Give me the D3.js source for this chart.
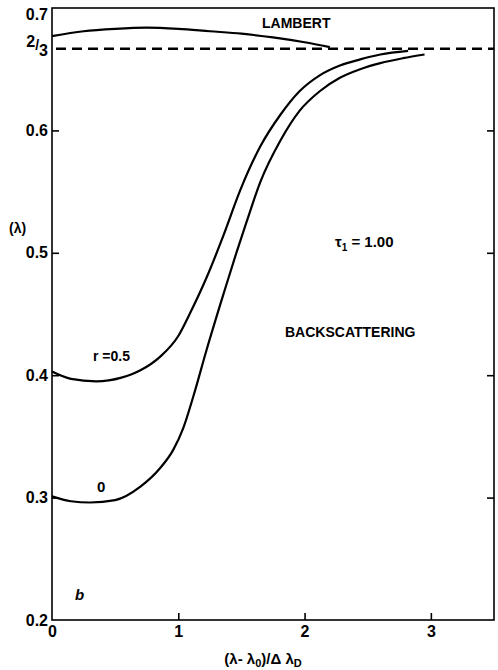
<!DOCTYPE html>
<head>
    <meta charset="utf-8">
    <title>Backscattering, tau1 = 1.00</title>
    <style>
        body { margin: 0; background: #fff; }
        text { font-family: "Liberation Sans", Arial, sans-serif; font-weight: bold; fill: #000; }
        .curve { fill: none; stroke: #000; stroke-width: 2.2; }
    </style>
</head>
<body>
<svg width="498" height="670"></svg>

<script src="https://d3js.org/d3.v7.min.js"></script>
<script>

    //data
    var lambertX = [0, 0.25, 0.5, 0.75, 1.0, 1.25, 1.5, 1.75, 2.0, 2.2];
    var lambertY = [0.677, 0.681, 0.683, 0.684, 0.683, 0.681, 0.679, 0.676, 0.672, 0.668];

    var r05X = [0, 0.15, 0.35, 0.55, 0.70, 0.855, 1.0, 1.09, 1.225, 1.357, 1.49, 1.65, 1.81, 1.96, 2.12, 2.28, 2.44, 2.60, 2.82];
    var r05Y = [0.403, 0.397, 0.395, 0.398, 0.404, 0.415, 0.432, 0.450, 0.480, 0.514, 0.551, 0.587, 0.613, 0.632, 0.645, 0.653, 0.658, 0.662, 0.665];

    var r0X = [0, 0.15, 0.3, 0.5, 0.70, 0.855, 0.96, 1.04, 1.12, 1.225, 1.357, 1.46, 1.54, 1.65, 1.81, 1.96, 2.12, 2.28, 2.44, 2.60, 2.78, 2.95];
    var r0Y = [0.301, 0.297, 0.296, 0.298, 0.309, 0.324, 0.339, 0.357, 0.383, 0.421, 0.466, 0.500, 0.525, 0.558, 0.592, 0.616, 0.632, 0.643, 0.650, 0.655, 0.659, 0.662];

    var xTicks = [0, 1, 2, 3];
    var yTicks = [0.2, 0.3, 0.4, 0.5, 0.6, 0.7];
    var lambertLevel = 2 / 3;

    var svg = d3.select("svg");

    var x = d3.scaleLinear().domain([0, 3.5]).range([52, 494]);
    var y = d3.scaleLinear().domain([0.2, 0.7]).range([620, 8]);

    //frame
    svg.append("rect")
        .attr("x", x(0)).attr("y", y(0.7))
        .attr("width", x(3.5) - x(0)).attr("height", y(0.2) - y(0.7))
        .attr("fill", "none").attr("stroke", "#000").attr("stroke-width", 1.6);

    //axes, ticks pointing inward
    var gx = svg.append("g").attr("transform", "translate(0," + y(0.2) + ")")
        .call(d3.axisBottom(x).tickValues(xTicks).tickSize(-7).tickPadding(6).tickFormat(d3.format("d")));
    var gy = svg.append("g").attr("transform", "translate(" + x(0) + ",0)")
        .call(d3.axisLeft(y).tickValues(yTicks).tickSize(-7).tickPadding(4).tickFormat(d3.format(".1f")));
    var gr = svg.append("g").attr("transform", "translate(" + x(3.5) + ",0)")
        .call(d3.axisRight(y).tickValues([0.3, 0.4, 0.5, 0.6]).tickSize(-7).tickFormat(""));

    [gx, gy, gr].forEach(g => {
        g.select(".domain").remove();
        g.selectAll(".tick line").attr("stroke-width", 1.6);
        g.selectAll("text").attr("font-size", 16).attr("font-family", null);
    });
    gx.selectAll(".tick").filter(d => d === 0).select("line").remove();
    gy.selectAll(".tick").filter(d => d === 0.2 || d === 0.7).select("line").remove();
    gy.selectAll(".tick").filter(d => d === 0.7).select("text").attr("dy", "0.7em");

    //2/3 label
    var frac = svg.append("text")
        .attr("x", x(0) - 4).attr("y", y(lambertLevel) + 2)
        .attr("text-anchor", "end").attr("font-size", 16);
    frac.append("tspan").attr("dy", -4).text("2");
    frac.append("tspan").attr("dy", 3).attr("font-size", 14).text("/");
    frac.append("tspan").attr("dy", 6).text("3");

    //dashed lambert level
    svg.append("line")
        .attr("x1", x(0) + 4).attr("x2", x(3.5))
        .attr("y1", y(lambertLevel)).attr("y2", y(lambertLevel))
        .attr("stroke", "#000").attr("stroke-width", 2.6)
        .attr("stroke-dasharray", "10,6");

    //curves
    var line = d3.line()
        .x(d => x(d[0]))
        .y(d => y(d[1]))
        .curve(d3.curveMonotoneX);

    [[lambertX, lambertY], [r05X, r05Y], [r0X, r0Y]].forEach(s => {
        svg.append("path")
            .datum(d3.zip(s[0], s[1]))
            .attr("class", "curve")
            .attr("d", line);
    });

    //labels
    function label(px, py, txt, size) {
        return svg.append("text").attr("x", px).attr("y", py).attr("font-size", size || 14).text(txt);
    }
    label(262, 28, "LAMBERT");
    label(285, 337, "BACKSCATTERING");
    label(93, 361, "r =0.5");
    label(97, 492, "0", 15);
    label(75, 600, "b", 15).attr("font-style", "italic");
    label(9, 233, "(λ)", 14);

    var tau = svg.append("text").attr("x", 335).attr("y", 247).attr("font-size", 15);
    tau.append("tspan").text("τ");
    tau.append("tspan").attr("font-size", 10).attr("dy", 4).text("1");
    tau.append("tspan").attr("dy", -4).text(" = 1.00");

    //x axis title
    var xt = svg.append("text").attr("x", 263).attr("y", 664)
        .attr("text-anchor", "middle").attr("font-size", 15);
    xt.append("tspan").text("(λ- λ");
    xt.append("tspan").attr("font-size", 11).attr("dy", 3).text("0");
    xt.append("tspan").attr("dy", -3).text(")/Δ λ");
    xt.append("tspan").attr("font-size", 11).attr("dy", 3).text("D");

</script>
</body>
